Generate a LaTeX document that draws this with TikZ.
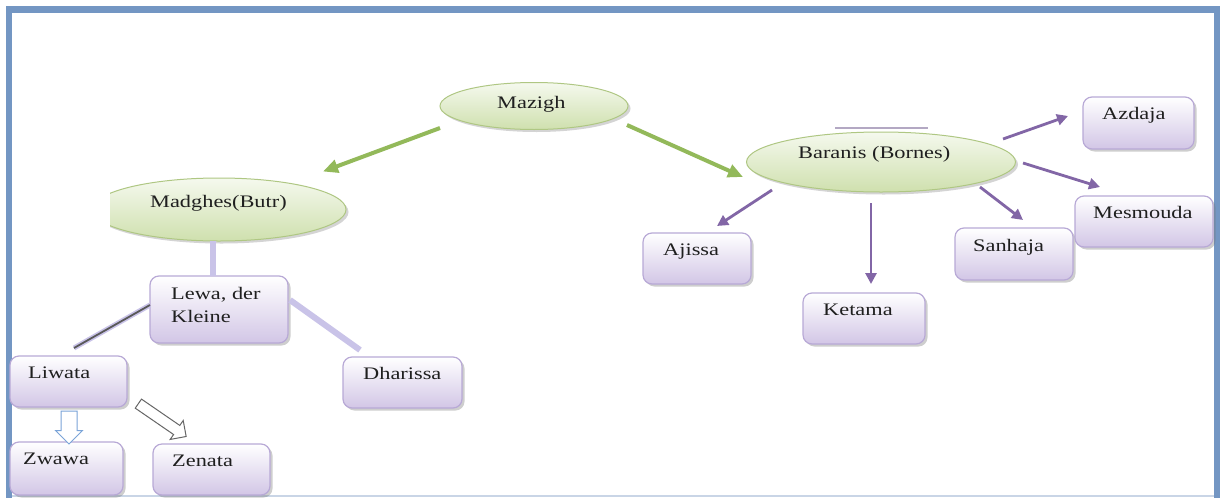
\documentclass[tikz,border=0pt]{standalone}
\usepackage{fontspec}
\setmainfont{Liberation Serif}[FakeStretch=1.27]
\usetikzlibrary{shapes.geometric,shapes.arrows,shadows,arrows.meta,calc}

\definecolor{frameblue}{HTML}{7396C3}
\definecolor{bottomline}{HTML}{C9D5E6}
\definecolor{elltop}{HTML}{F5F9EE}
\definecolor{ellbot}{HTML}{CFE0AE}
\definecolor{ellborder}{HTML}{AFC783}
\definecolor{boxbot}{HTML}{D2C6E6}
\definecolor{boxborder}{HTML}{B8A9D6}
\definecolor{arrgreen}{HTML}{93B95A}
\definecolor{arrpurple}{HTML}{8266A6}
\definecolor{lavline}{HTML}{C9C3E8}
\definecolor{hollowblue}{HTML}{7AA4D8}

\begin{document}
\begin{tikzpicture}[x=1pt,y=-1pt,
  ellnode/.style={ellipse, draw=ellborder, line width=1pt,
    top color=elltop, bottom color=ellbot, inner sep=0pt,
    drop shadow={shadow xshift=2.5pt, shadow yshift=-2.5pt, opacity=0.3, fill=black!55}},
  boxnode/.style={rectangle, rounded corners=9pt, draw=boxborder, line width=1.2pt,
    top color=white, bottom color=boxbot, inner sep=0pt,
    drop shadow={shadow xshift=2.5pt, shadow yshift=-2.5pt, opacity=0.35, fill=black!55}},
  lbl/.style={anchor=base west, inner sep=0pt, text=black!88,
    font=\fontsize{17.6}{21}\selectfont},
  greenarrow/.style={draw=arrgreen, line width=4pt, -{Triangle[length=15pt,width=13pt]}},
  purplearrow/.style={draw=arrpurple, line width=2.8pt, -{Triangle[length=11pt,width=11pt]}},
  lavconn/.style={draw=lavline, line width=6pt},
  blockarrow/.style={single arrow, fill=white, line width=1pt, inner xsep=0pt,
    text height=0pt, text depth=0pt, text width=0pt}
]
\useasboundingbox (0,0) rectangle (1222,498);
\fill[white] (0,0) rectangle (1222,498);

% page frame
\fill[frameblue] (6,6) rectangle (1220,12.5);
\fill[frameblue] (6,6) rectangle (12,498);
\fill[frameblue] (1214,6) rectangle (1220,498);
\draw[bottomline, line width=1.5pt] (12,496) -- (1214,496);

% ellipses
\node[ellnode, minimum width=188pt, minimum height=47pt] (mazigh) at (534,106) {};
\node[ellnode, minimum width=269pt, minimum height=60pt] (baranis) at (881,162) {};
\begin{scope}
  \clip (110,0) rectangle (1222,498);
  \node[ellnode, minimum width=254pt, minimum height=63pt] (madghes) at (219,209.5) {};
\end{scope}

\node[lbl] (tmazigh) at (497,108) {Mazigh};
\node[lbl] (tbaranis) at (798,158) {Baranis (Bornes)};
\node[lbl] (tmadghes) at (150,207) {Madghes(Butr)};

% boxes
\node[boxnode, minimum width=138pt, minimum height=67pt] (lewa) at (219,309.5) {};
\node[boxnode, minimum width=117pt, minimum height=51pt] (liwata) at (68.5,381.5) {};
\node[boxnode, minimum width=119pt, minimum height=51pt] (dharissa) at (402.5,382.5) {};
\node[boxnode, minimum width=113pt, minimum height=53pt] (zwawa) at (66.5,468.5) {};
\node[boxnode, minimum width=117pt, minimum height=51pt] (zenata) at (211.5,469.5) {};
\node[boxnode, minimum width=108pt, minimum height=51pt] (ajissa) at (697,258.5) {};
\node[boxnode, minimum width=122pt, minimum height=51pt] (ketama) at (864,318.5) {};
\node[boxnode, minimum width=118pt, minimum height=52pt] (sanhaja) at (1014,254) {};
\node[boxnode, minimum width=138pt, minimum height=51pt] (mesmouda) at (1144,221.5) {};
\node[boxnode, minimum width=111pt, minimum height=52pt] (azdaja) at (1138.5,123) {};

\node[lbl] (tlewa1) at (171,299) {Lewa, der};
\node[lbl] (tlewa2) at (171,322) {Kleine};
\node[lbl] (tliwata) at (28,378) {Liwata};
\node[lbl] (tdharissa) at (363,379) {Dharissa};
\node[lbl] (tzwawa) at (23,464) {Zwawa};
\node[lbl] (tzenata) at (172,466) {Zenata};
\node[lbl] (tajissa) at (663,255) {Ajissa};
\node[lbl] (tketama) at (823,315) {Ketama};
\node[lbl] (tsanhaja) at (973,251) {Sanhaja};
\node[lbl] (tmesmouda) at (1093,218) {Mesmouda};
\node[lbl] (tazdaja) at (1102,119) {Azdaja};

% green arrows from the root
\draw[greenarrow] ($(mazigh)+(-94,22)$) -- ($(madghes)+(104,-38)$);
\draw[greenarrow] ($(mazigh)+(93,19)$) -- ($(baranis)+(-138,15)$);

% purple arrows from Baranis
\draw[purplearrow] ($(baranis)+(-109,28)$) -- ($(ajissa)+(20,-32.5)$);
\draw[purplearrow] ($(baranis)+(-10,41)$) -- ($(ketama)+(7,-34.5)$);
\draw[purplearrow] ($(baranis)+(99,25)$) -- ($(sanhaja)+(9,-34)$);
\draw[purplearrow] ($(baranis)+(142,1)$) -- ($(mesmouda)+(-44,-34.5)$);
\draw[purplearrow] ($(baranis)+(122,-23)$) -- ($(azdaja)+(-70.5,-7)$);
\draw[arrpurple!70!gray, line width=1.3pt, opacity=0.6]
  ($(baranis)+(-46,-34)$) -- ($(baranis)+(47,-34)$);

% lavender branches below Madghes
\draw[lavconn] ($(madghes)+(-6,31)$) -- ($(lewa)+(-6,-33.5)$);
\draw[lavconn, line width=5pt] ($(lewa)+(-69,-4.5)$) -- ($(liwata)+(5.5,-33.5)$);
\draw[black!65, line width=1.8pt] ($(lewa)+(-69,-4.5)$) -- ($(liwata)+(5.5,-33.5)$);
\draw[lavconn] ($(lewa)+(71,-9.5)$) -- ($(dharissa)+(-42.5,-32.5)$);

% hollow block arrows below Liwata
\node[blockarrow, draw=hollowblue, rotate=-90, minimum height=33pt,
  inner ysep=7.5pt, single arrow head extend=5.5pt] (liwzwawa) at (69,423.5) {};
\node[blockarrow, draw=black!60, rotate=-34.5, minimum height=58pt,
  inner ysep=5pt, single arrow head extend=6pt] (liwzenata) at (160,418.5) {};
\end{tikzpicture}
\end{document}
